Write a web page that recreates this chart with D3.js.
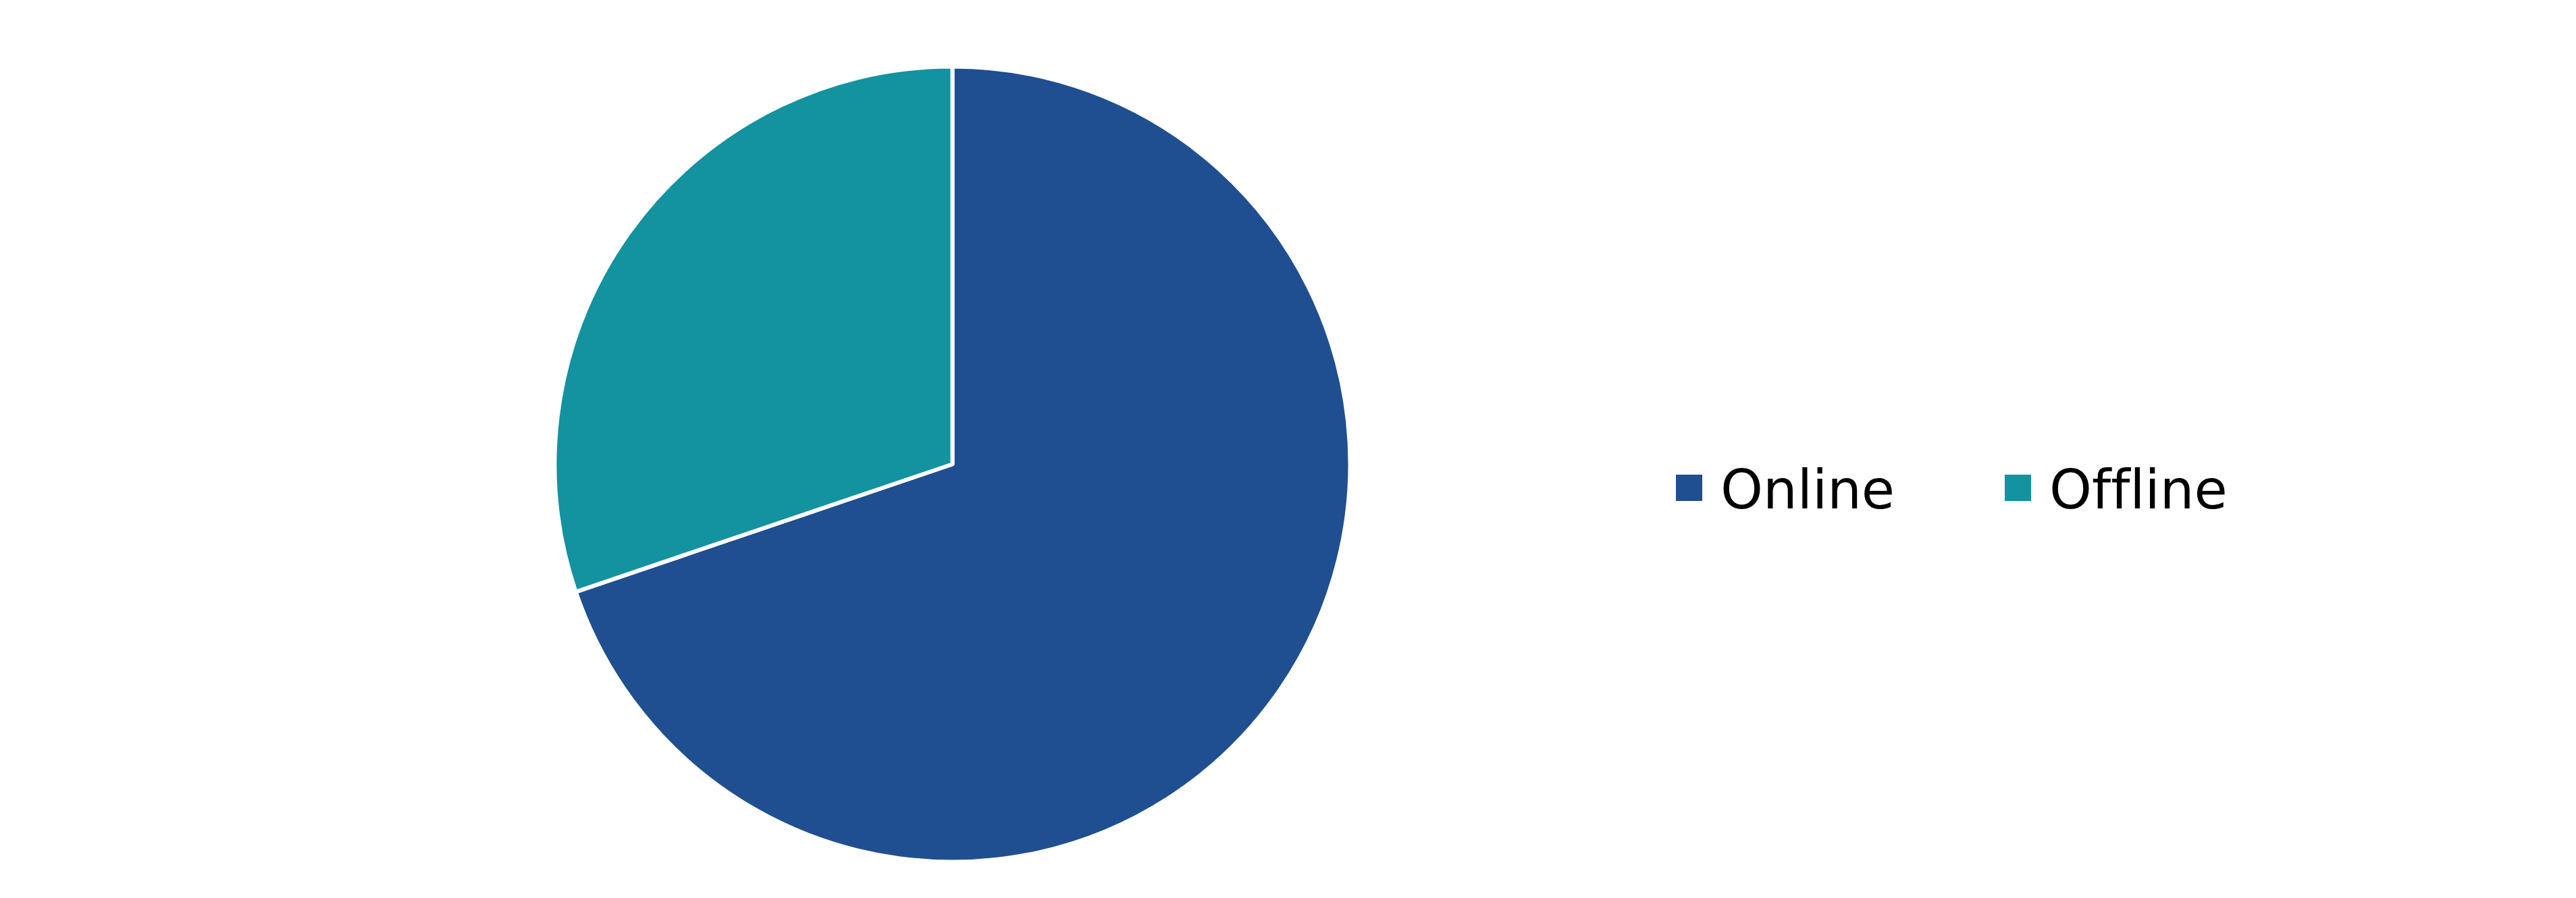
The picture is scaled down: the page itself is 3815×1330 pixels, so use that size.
<!DOCTYPE html>
<html>
<head>
<meta charset="utf-8">
<script src="https://cdn.jsdelivr.net/npm/d3@7/dist/d3.min.js"></script>
<style>
  html, body { margin: 0; padding: 0; background: #ffffff; }
  svg { display: block; }
  text { font-variant-ligatures: none; font-feature-settings: "liga" 0, "clig" 0; }
</style>
</head>
<body>
<svg id="chart" width="3815" height="1330"></svg>
<script>
const categories = ["Online", "Offline"];
const values = [69.8, 30.2];
const colors = ["#1F4F91", "#1392A0"];

const svg = d3.select("#chart");
const cx = 1410.5, cy = 687.5, radius = 589;

const pie = d3.pie().sort(null).value(d => d.value);
const arc = d3.arc().innerRadius(0).outerRadius(radius);
const data = categories.map((c, i) => ({ name: c, value: values[i] }));
const color = d3.scaleOrdinal().domain(categories).range(colors);

svg.append("g")
  .attr("transform", `translate(${cx},${cy})`)
  .selectAll("path")
  .data(pie(data))
  .join("path")
  .attr("d", arc)
  .attr("fill", d => color(d.data.name))
  .attr("stroke", "#ffffff")
  .attr("stroke-width", 6)
  .attr("stroke-linejoin", "round");

const legend = svg.append("g").attr("transform", "translate(2482,703)");
const item = legend.selectAll("g")
  .data(categories)
  .join("g")
  .attr("transform", (d, i) => `translate(${i * 487},0)`);
item.append("rect")
  .attr("width", 39).attr("height", 39)
  .attr("fill", d => color(d));
item.append("text")
  .attr("x", 66)
  .attr("y", 49.5)
  .attr("font-family", "DejaVu Sans")
  .attr("font-size", 80)
  .attr("fill", "#000000")
  .text(d => d);
</script>
</body>
</html>
